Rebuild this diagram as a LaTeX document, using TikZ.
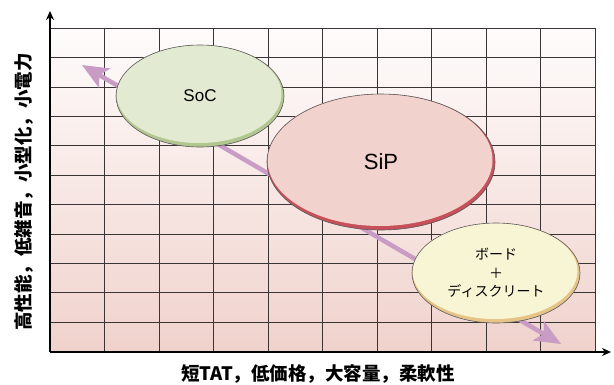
\documentclass[tikz,border=0pt]{standalone}
\usepackage{fontspec}
\newfontfamily\jpfont{Noto Sans CJK JP}
\newfontfamily\latfont{Liberation Sans}
\usetikzlibrary{arrows.meta,calc}
\definecolor{bgtop}{HTML}{FEFCFC}
\definecolor{bgbot}{HTML}{F0D2CC}
\definecolor{gridc}{HTML}{3A3535}
\definecolor{arrowc}{HTML}{C89CC4}
\definecolor{socmain}{HTML}{E3EAD2}
\definecolor{socrim}{HTML}{B2C690}
\definecolor{sipmain}{HTML}{F2D2CC}
\definecolor{siprim}{HTML}{C8505A}
\definecolor{brdmain}{HTML}{F8F5D4}
\definecolor{brdrim}{HTML}{E6C488}
\tikzset{
  gridline/.style={draw=gridc, line width=0.9pt},
  axisline/.style={draw=black, line width=1.4pt, -{Stealth[length=9pt,width=8pt]}},
  trendarrow/.style={draw=arrowc, line width=4.5pt, {Stealth[length=26pt,width=22pt,inset=6pt]}-{Stealth[length=26pt,width=22pt,inset=6pt]}},
  outline/.style={draw=black!65, line width=0.6pt},
  axislabel/.style={font=\jpfont\bfseries\fontsize{18.5}{22}\selectfont, inner sep=0pt},
}
\begin{document}
\begin{tikzpicture}[x=1pt,y=-1pt]
\useasboundingbox (0,0) rectangle (614,384);
% background
\shade[top color=bgtop, bottom color=bgbot] (50,28.3) rectangle (595.3,351.7);
% grid
\foreach \i in {1,...,10} {
  \draw[gridline] ({50+\i*54.53},28.3) -- ({50+\i*54.53},351.7);
}
\foreach \j in {0,...,10} {
  \draw[gridline] (50,{28.3+\j*29.4}) -- (595.3,{28.3+\j*29.4});
}
% axes
\coordinate (origin) at (50,352);
\coordinate (ytip) at (50,11);
\coordinate (xtip) at (611,352);
\draw[axisline] (origin) -- (ytip);
\draw[axisline] (origin) -- (xtip);
% trend arrow
\coordinate (ta) at (82,65);
\coordinate (tb) at (561,344);
\draw[trendarrow] (ta) -- (tb);
% SoC
\fill[socrim] (200,96) ellipse [x radius=84pt, y radius=51pt];
\fill[socmain] (199,94) ellipse [x radius=82.5pt, y radius=49pt];
\draw[outline] (200,96) ellipse [x radius=84pt, y radius=51pt];
\node[font=\latfont\fontsize{17}{20}\selectfont] (soc) at (200,96) {SoC};
% SiP
\fill[siprim] (381,162) ellipse [x radius=114pt, y radius=68pt];
\fill[sipmain] (380,160) ellipse [x radius=112.5pt, y radius=66pt];
\draw[outline] (381,162) ellipse [x radius=114pt, y radius=68pt];
\node[font=\latfont\fontsize{22}{26}\selectfont] (sip) at (381,162) {SiP};
% Board
\fill[brdrim] (496,273) ellipse [x radius=84pt, y radius=50pt];
\fill[brdmain] (495,271) ellipse [x radius=82.5pt, y radius=48pt];
\draw[outline] (496,273) ellipse [x radius=84pt, y radius=50pt];
\node[font=\jpfont\fontsize{14}{18.5}\selectfont, align=center] (board) at (496,273) {ボード\\＋\\ディスクリート};
% axis labels
\node[axislabel, rotate=90] (ylabel) at (23.5,192) {高性能，低雑音，小型化，小電力};
\node[axislabel] (xlabel) at (318,374) {短TAT，低価格，大容量，柔軟性};
\end{tikzpicture}
\end{document}
